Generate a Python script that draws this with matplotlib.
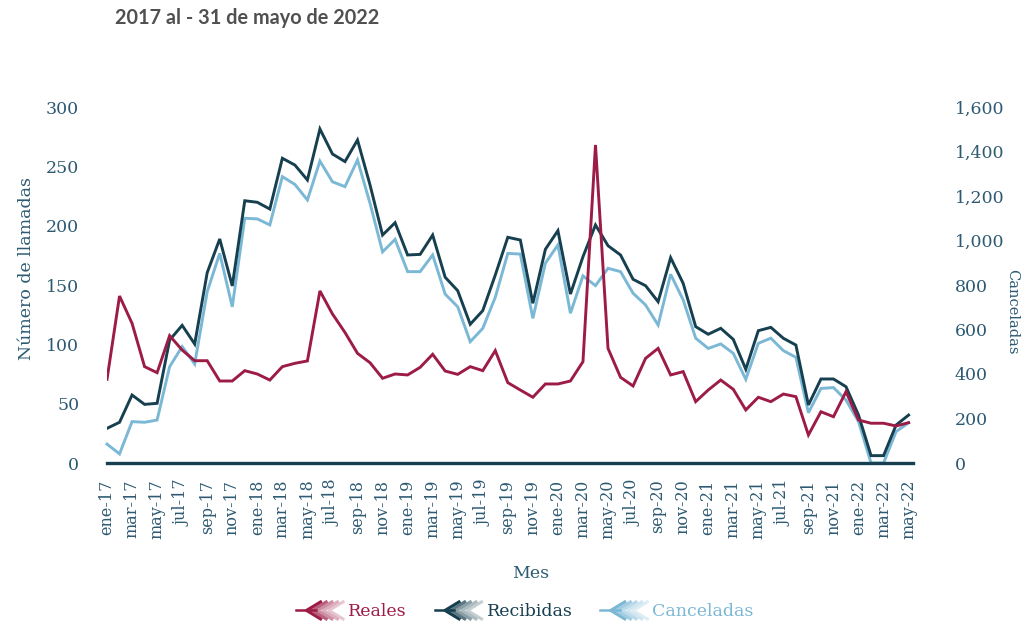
import matplotlib
matplotlib.use("Agg")
import matplotlib.pyplot as plt
from matplotlib.legend_handler import HandlerBase
from matplotlib.lines import Line2D
from matplotlib.ticker import FuncFormatter

# ---------------- data ----------------
meses = ["ene", "feb", "mar", "abr", "may", "jun", "jul", "ago", "sep", "oct", "nov", "dic"]
anios = ["17", "18", "19", "20", "21", "22"]
etiquetas = [f"{m}-{a}" for a in anios for m in meses][:65]   # ene-17 .. may-22

reales = [70.5, 140.7, 117.7, 81.2, 76.1, 107.3, 95.2, 86.2, 86.2, 69.1, 69.1, 77.8,
          75.0, 69.9, 81.2, 84.0, 86.0, 145.0, 125.6, 110.0, 92.4, 84.5, 71.4, 75.0,
          74.2, 80.6, 91.6, 77.5, 74.7, 81.2, 77.8, 94.7, 67.7, 61.5, 55.4, 66.6,
          66.6, 69.1, 85.4, 268.0, 96.6, 72.2, 64.9, 88.2, 96.6, 74.2, 77.0, 51.7,
          61.5, 69.9, 62.1, 44.7, 55.4, 51.7, 58.1, 55.9, 23.6, 43.2, 39.0, 60.1,
          36.2, 33.5, 33.5, 31.2, 34.0]

recibidas = [29.2, 34.3, 57.3, 49.4, 50.3, 103.6, 116.0, 100.3, 160.4, 188.8, 149.2, 221.0,
             219.7, 214.0, 256.8, 251.1, 238.5, 281.5, 260.4, 254.0, 272.2, 234.3, 192.1, 202.5,
             175.3, 175.8, 192.1, 156.5, 145.2, 116.9, 128.4, 158.4, 190.2, 187.9, 134.6, 180.1,
             195.8, 142.4, 173.8, 200.6, 183.1, 175.3, 154.8, 149.4, 135.9, 173.0, 151.4, 114.9,
             108.5, 113.5, 104.2, 79.0, 111.5, 114.3, 105.1, 99.4, 48.9, 70.8, 70.8, 64.3,
             40.4, 6.2, 6.2, 32.0, 40.4]

canceladas = [85, 41, 186, 183, 193, 433, 523, 445, 770, 942, 702, 1100,
              1097, 1070, 1287, 1252, 1182, 1357, 1264, 1242, 1362, 1167, 949, 1005,
              860, 860, 935, 759, 702, 545, 605, 745, 942, 939, 650, 898,
              980, 673, 841, 797, 875, 860, 763, 710, 620, 848, 733, 561,
              515, 535, 493, 376, 538, 561, 505, 475, 226, 335, 339, 283,
              186, 0, 0, 141, 181]

# ---------------- style ----------------
C_REALES = "#9c1c46"
C_RECIB = "#163f4f"
C_CANC = "#7bb8d6"
C_TXT = "#2d5a72"
SERIF = ["DejaVu Serif"]

fig = plt.figure(figsize=(10.23, 6.29), dpi=100)
ax = fig.add_axes([107/1023, 1-463/629, (913-107)/1023, (463-107)/629])
ax2 = ax.twinx()
ax.set_zorder(ax2.get_zorder() + 1)
ax.patch.set_visible(False)

x = list(range(len(etiquetas)))
ax2.plot(x, canceladas, color=C_CANC, lw=2.1, solid_joinstyle="miter", clip_on=False)
ax.plot(x, recibidas, color=C_RECIB, lw=2.1, solid_joinstyle="miter")
ax.plot(x, reales, color=C_REALES, lw=2.1, solid_joinstyle="miter")

ax.set_xlim(0, 64.35)
ax.set_ylim(0, 300)
ax2.set_ylim(0, 1600)
ax.set_yticks(range(0, 301, 50))
ax2.set_yticks(range(0, 1601, 200))
ax2.yaxis.set_major_formatter(FuncFormatter(lambda v, p: f"{int(v):,}"))

ax.set_xticks(x[::2])
ax.set_xticklabels(etiquetas[::2], rotation=90, fontfamily=SERIF, fontsize=11.5, color=C_TXT)

for a in (ax, ax2):
    for s in a.spines.values():
        s.set_visible(False)
ax.spines["bottom"].set_visible(True)
ax.spines["bottom"].set_color(C_RECIB)
ax.spines["bottom"].set_linewidth(2.4)

ax.tick_params(axis="x", length=0, pad=12)
ax.tick_params(axis="y", length=0, pad=20, labelsize=12.5, labelcolor=C_TXT)
ax2.tick_params(axis="y", length=0, pad=30, labelsize=12.5, labelcolor=C_TXT)
for lab in ax.get_yticklabels() + ax2.get_yticklabels():
    lab.set_fontfamily(SERIF)

fig.text(27/1023, 1-269/629, "Número de llamadas", rotation=90, ha="center", va="center",
         fontsize=12.5, color=C_TXT, family=SERIF)
fig.text(1012/1023, 1-312/629, "Canceladas", rotation=270, ha="center", va="center",
         fontsize=10.5, color=C_TXT, family=SERIF)
fig.text(531/1023, 1-573/629, "Mes", ha="center", va="center",
         fontsize=12.5, color=C_TXT, family=SERIF)
fig.text(115/1023, 1-18/629, "2017 al - 31 de mayo de 2022", ha="left", va="center",
         fontsize=14.3, fontweight="bold", color="#505050", family=["Lato", "DejaVu Sans"])


class FeatherHandler(HandlerBase):
    def create_artists(self, legend, orig_handle, xdescent, ydescent, width, height,
                       fontsize, trans):
        col = orig_handle.get_color()
        x0 = -xdescent
        ym = -ydescent + height / 2
        h = height * 0.7
        arts = [Line2D([x0, x0 + 0.42 * width], [ym, ym], color=col, lw=1.8, transform=trans)]
        alphas = [1.0, 0.7, 0.5, 0.35, 0.25]
        for k, al in enumerate(alphas):
            xa = x0 + 0.22 * width + k * 0.12 * width
            arts.append(Line2D([xa + 0.3 * width, xa, xa + 0.3 * width],
                               [ym + h, ym, ym - h], color=col, alpha=al, lw=2.2,
                               transform=trans))
        return arts


handles = [Line2D([], [], color=c) for c in (C_REALES, C_RECIB, C_CANC)]
leg = fig.legend(handles, ["Reales", "Recibidas", "Canceladas"], loc="center",
                 bbox_to_anchor=(525/1023, 1-612/629), ncol=3, frameon=False,
                 handlelength=2.7, handletextpad=0.3, columnspacing=1.6,
                 handler_map={Line2D: FeatherHandler()},
                 prop={"family": SERIF, "size": 12.5})
for t, c in zip(leg.get_texts(), (C_REALES, C_RECIB, C_CANC)):
    t.set_color(c)

fig.savefig("out.png", dpi=100)
